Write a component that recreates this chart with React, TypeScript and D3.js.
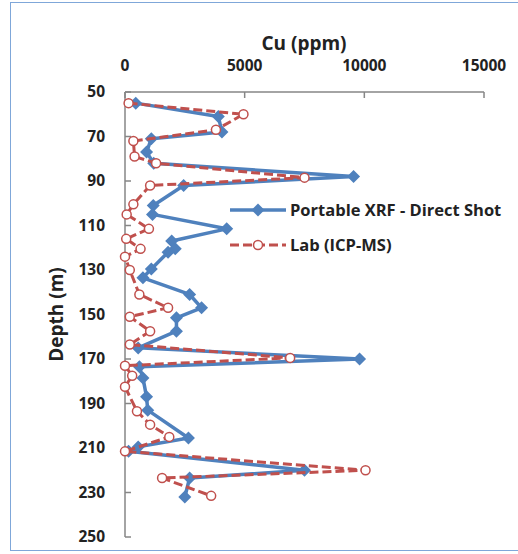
import React from "react";
import * as d3 from "d3";

// Portable XRF - Direct Shot
const xrfDepth = [55, 61, 68, 71, 77, 82, 88, 92, 101, 105, 111.5, 117, 120.5, 122, 129.5, 133.5, 141, 147, 151.5, 157.5, 165, 170, 173.5, 178.5, 187, 193, 205.5, 209.5, 211.5, 220, 223.5, 232];
const xrfCu = [450, 3900, 4050, 1100, 900, 1200, 9550, 2450, 1180, 1150, 4250, 1950, 2100, 1800, 1100, 750, 2700, 3200, 2150, 2150, 550, 9800, 600, 750, 900, 950, 2650, 550, 150, 7500, 2700, 2500];

// Lab (ICP-MS)
const labDepth = [55, 60, 67, 72, 79, 82, 88.5, 92, 100.5, 105, 111.5, 116, 120.5, 124, 130, 141, 147, 151, 157.5, 163.5, 169.5, 173, 177.5, 182.5, 193.5, 199.5, 205, 211.5, 220, 223.5, 231.5];
const labCu = [150, 4950, 3800, 350, 400, 1300, 7500, 1050, 350, 70, 1000, 50, 650, 0, 200, 600, 1800, 200, 1050, 200, 6900, 0, 300, 0, 500, 1050, 1850, 0, 10050, 1550, 3600];

const xTicks = [0, 5000, 10000, 15000];
const yTicks = [50, 70, 90, 110, 130, 150, 170, 190, 210, 230, 250];

const BLUE = "#4F81BD";
const RED = "#C0504D";
const AXIS = "#868686";
const FONT = "'Open Sans', 'Liberation Sans', sans-serif";

const diamond = (r: number) => `M0,${-r}L${r},0L0,${r}L${-r},0Z`;

const App = () => {
  const x = d3.scaleLinear().domain([0, 15000]).range([125, 484]);
  const y = d3.scaleLinear().domain([50, 250]).range([92, 537]);

  const line = d3
    .line<[number, number]>()
    .x((d) => x(d[1]))
    .y((d) => y(d[0]));

  const xrf: [number, number][] = xrfDepth.map((d, i) => [d, xrfCu[i]]);
  const lab: [number, number][] = labDepth.map((d, i) => [d, labCu[i]]);

  return (
    <div style={{ position: "absolute", left: 0, top: 0 }}>
      <svg width={518} height={554} style={{ display: "block", fontFamily: FONT }}>
        <rect x={0} y={0} width={518} height={554} fill="white" />
        <rect x={10.5} y={2.5} width={520} height={548} fill="none" stroke="#7FA7D9" strokeWidth={1} />

        {/* top x axis */}
        <line x1={x(0)} x2={x(15000)} y1={y(50)} y2={y(50)} stroke={AXIS} strokeWidth={1.5} />
        {xTicks.map((t) => (
          <g key={t}>
            <line x1={x(t)} x2={x(t)} y1={y(50)} y2={y(50) + 6} stroke={AXIS} strokeWidth={1.5} />
            <text x={x(t)} y={71} textAnchor="middle" fontSize={15.5} fontWeight="bold" fill="#222">
              {t}
            </text>
          </g>
        ))}
        <text x={304} y={50} textAnchor="middle" fontSize={19} fontWeight="bold" fill="#222">
          Cu (ppm)
        </text>

        {/* left y axis */}
        <line x1={x(0)} x2={x(0)} y1={y(50)} y2={y(250)} stroke={AXIS} strokeWidth={1.5} />
        {yTicks.map((t) => (
          <g key={t}>
            <line x1={x(0)} x2={x(0) + 6} y1={y(t)} y2={y(t)} stroke={AXIS} strokeWidth={1.5} />
            <text x={105} y={y(t) + 5} textAnchor="end" fontSize={15.5} fontWeight="bold" fill="#222">
              {t}
            </text>
          </g>
        ))}
        <text
          transform={`translate(63, ${y(150)}) rotate(-90)`}
          textAnchor="middle"
          fontSize={19}
          fontWeight="bold"
          fill="#222"
        >
          Depth (m)
        </text>

        {/* XRF series */}
        <path d={line(xrf) ?? ""} fill="none" stroke={BLUE} strokeWidth={3.5} strokeLinejoin="round" />
        {xrf.map((d, i) => (
          <path key={i} d={diamond(6.5)} transform={`translate(${x(d[1])},${y(d[0])})`} fill={BLUE} />
        ))}

        {/* Lab series */}
        <path
          d={line(lab) ?? ""}
          fill="none"
          stroke={RED}
          strokeWidth={3}
          strokeDasharray="9,4"
          strokeLinejoin="round"
        />
        {lab.map((d, i) => (
          <circle key={i} cx={x(d[1])} cy={y(d[0])} r={4.5} fill="white" stroke={RED} strokeWidth={1.5} />
        ))}

        {/* legend */}
        <line x1={230} x2={286} y1={210} y2={210} stroke={BLUE} strokeWidth={3.5} />
        <path d={diamond(6.5)} transform="translate(258,210)" fill={BLUE} />
        <text x={290} y={216} fontSize={16.5} fontWeight="bold" fill="#222">
          Portable XRF - Direct Shot
        </text>
        <line x1={230} x2={286} y1={245} y2={245} stroke={RED} strokeWidth={3} strokeDasharray="9,4" />
        <circle cx={258} cy={245} r={4.5} fill="white" stroke={RED} strokeWidth={1.5} />
        <text x={290} y={251} fontSize={16.5} fontWeight="bold" fill="#222">
          Lab (ICP-MS)
        </text>
      </svg>
    </div>
  );
};

export default App;
